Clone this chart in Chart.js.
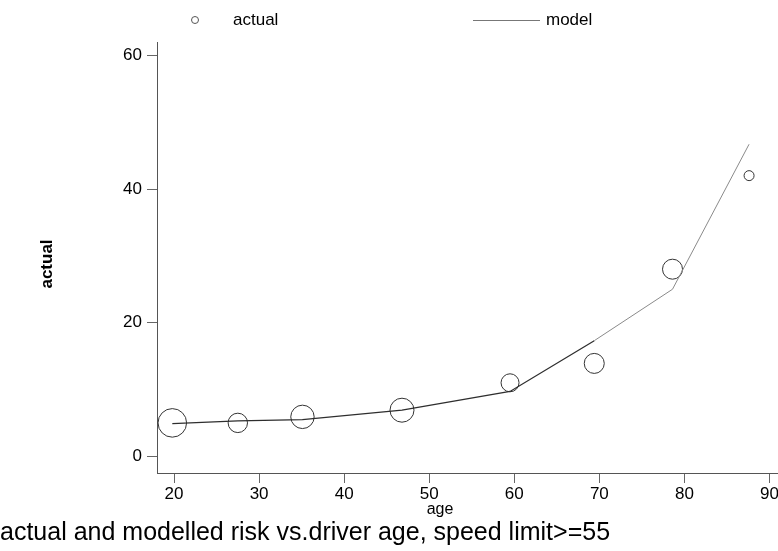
<!DOCTYPE html>
<html>
<head>
<meta charset="utf-8">
<script src="https://cdn.jsdelivr.net/npm/chart.js@4.4.1/dist/chart.umd.min.js"></script>
<style>
  html, body { margin: 0; padding: 0; background: #fff; }
  #wrap { width: 778px; height: 551px; position: relative; }
</style>
</head>
<body>
<div id="wrap"><canvas id="c" width="778" height="551"></canvas></div>
<script>
// ---- data ----
const ages        = [19.8, 27.5, 35.1, 46.8, 59.5, 69.4, 78.6, 87.6];
const actualRisk  = [5.0, 5.0, 5.9, 6.9, 11.0, 13.9, 28.0, 42.0];
const modelRisk   = [4.9, 5.3, 5.5, 6.9, 9.7, 17.3, 25.0, 46.7];
const weights     = [204, 94, 137, 144, 81, 100, 100, 25];   // marker area weights
const xTickValues = [20, 30, 40, 50, 60, 70, 80, 90];
const yTickValues = [0, 20, 40, 60];
const legendLabels = ['actual', 'model'];
const xAxisTitle  = 'age';
const yAxisTitle  = 'actual';
const titleText   = 'actual and modelled risk vs.driver age, speed limit>=55';

const FONT = "'Liberation Sans', Arial, Helvetica, sans-serif";

const actualPts = ages.map((a, i) => ({ x: a, y: actualRisk[i] }));
const modelPts  = ages.map((a, i) => ({ x: a, y: modelRisk[i] }));
const radii     = weights.map(w => Math.sqrt(w));

const annotationsPlugin = {
  id: 'topLegend',
  afterDraw(chart) {
    const ctx = chart.ctx;
    ctx.save();
    const y = 20;
    // legend
    ctx.strokeStyle = '#555';
    ctx.lineWidth = 1;
    ctx.beginPath();
    ctx.arc(195, y, 3.5, 0, Math.PI * 2);
    ctx.stroke();
    ctx.fillStyle = '#000';
    ctx.font = '17px ' + FONT;
    ctx.textBaseline = 'middle';
    ctx.textAlign = 'left';
    ctx.fillText(legendLabels[0], 233, y);
    ctx.strokeStyle = '#777';
    ctx.beginPath();
    ctx.moveTo(473, y + 0.5);
    ctx.lineTo(540, y + 0.5);
    ctx.stroke();
    ctx.fillText(legendLabels[1], 546, y);
    // x axis title, slightly left of centre as in the reference
    ctx.font = '16px ' + FONT;
    ctx.textAlign = 'center';
    ctx.fillText(xAxisTitle, 440, 510);
    // y axis title, rotated
    ctx.translate(47, 264);
    ctx.rotate(-Math.PI / 2);
    ctx.font = 'bold 17px ' + FONT;
    ctx.fillText(yAxisTitle, 0, 0);
    ctx.restore();
  }
};

new Chart(document.getElementById('c'), {
  type: 'scatter',
  data: {
    datasets: [
      {
        label: legendLabels[1],
        data: modelPts,
        showLine: true,
        borderColor: '#3a3a3a',
        borderWidth: 1.2,
        segment: {
          borderColor: c => (c.p0DataIndex >= 5 ? '#8a8a8a' : '#2e2e2e'),
          borderWidth: c => (c.p0DataIndex >= 5 ? 1 : 1.3)
        },
        pointRadius: 0,
        fill: false,
        tension: 0
      },
      {
        label: legendLabels[0],
        data: actualPts,
        showLine: false,
        pointStyle: 'circle',
        pointRadius: radii,
        pointBorderColor: '#333',
        pointBackgroundColor: 'rgba(0,0,0,0)',
        pointBorderWidth: 1
      }
    ]
  },
  options: {
    responsive: false,
    animation: false,
    layout: { autoPadding: false, padding: { top: 42, left: 0, right: 0, bottom: 3 } },
    plugins: {
      legend: { display: false },
      tooltip: { enabled: false },
      title: {
        display: true,
        text: titleText,
        position: 'bottom',
        align: 'start',
        color: '#000',
        font: { family: FONT, size: 25, weight: 'normal' },
        padding: { top: 0, bottom: 0 }
      }
    },
    scales: {
      x: {
        type: 'linear',
        min: 18,
        max: 91,
        afterBuildTicks(scale) { scale.ticks = xTickValues.map(v => ({ value: v })); },
        afterFit(scale) { scale.height = 45; scale.paddingLeft = 0; scale.paddingRight = 0; },
        ticks: {
          color: '#000',
          font: { family: FONT, size: 17 },
          padding: 1,
          maxRotation: 0,
          autoSkip: false
        },
        grid: { drawOnChartArea: false, drawTicks: true, tickLength: 10, color: '#666' },
        border: { display: true, color: '#555', width: 1 },
        title: { display: false }
      },
      y: {
        type: 'linear',
        min: -2.5,
        max: 62,
        afterBuildTicks(scale) { scale.ticks = yTickValues.map(v => ({ value: v })); },
        afterFit(scale) { scale.width = 157; scale.paddingTop = 0; scale.paddingBottom = 0; },
        ticks: {
          color: '#000',
          font: { family: FONT, size: 17 },
          padding: 5
        },
        grid: { drawOnChartArea: false, drawTicks: true, tickLength: 10, color: '#666' },
        border: { display: true, color: '#555', width: 1 },
        title: { display: false }
      }
    }
  },
  plugins: [annotationsPlugin]
});
</script>
</body>
</html>
